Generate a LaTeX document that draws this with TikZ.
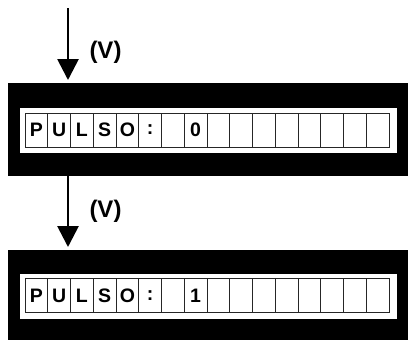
\documentclass[tikz,border=0pt]{standalone}
\usepackage{fontspec}
\setmainfont{Liberation Sans}
\usetikzlibrary{arrows.meta}

\tikzset{
  lcdbox/.style={fill=black, inner sep=0pt, anchor=north west,
    minimum width=400pt},
  strip/.style={fill=white, inner sep=0pt, minimum width=377pt,
    minimum height=45pt},
  cell/.style={draw=black!85, fill=white, line width=0.8pt, inner sep=0pt,
    minimum width=22.75pt, minimum height=34pt,
    font=\fontsize{19.5}{19.5}\selectfont\bfseries},
  pulse/.style={line width=2.8pt, shorten >=3pt,
    -{Triangle[length=21pt, width=21pt]}},
  vlabel/.style={font=\fontsize{24}{24}\selectfont\bfseries}
}

\begin{document}
\begin{tikzpicture}[x=1pt, y=-1pt]
  \useasboundingbox (0,0) rectangle (408,340);
  \node[lcdbox, minimum height=93pt] (box1) at (8,83) {};
  \node[lcdbox, minimum height=90pt] (box2) at (8,250) {};
  \node[strip] (strip1) at (208.5,130.5) {};
  \node[strip] (strip2) at (208.5,296) {};
  % cells of the two displays
  \foreach \b/\y/\d in {1/130/0, 2/295.5/1} {
    \foreach \i/\t in {1/P, 2/U, 3/L, 4/S, 5/O, 6/:, 7/{}, 8/\d,
                       9/{}, 10/{}, 11/{}, 12/{}, 13/{}, 14/{}, 15/{}, 16/{}}
      \node[cell] (c\b-\i) at ({25+22.75*(\i-0.5)},\y) {\t};
  }
  \coordinate (start) at (68,8);
  \draw[pulse] (start) -- (start |- box1.north);
  \draw[pulse] (box1.south -| start) -- (box2.north -| start);
  \node[vlabel] (v1) at (105.5,52) {(V)};
  \node[vlabel] (v2) at (105.5,211) {(V)};
\end{tikzpicture}
\end{document}
